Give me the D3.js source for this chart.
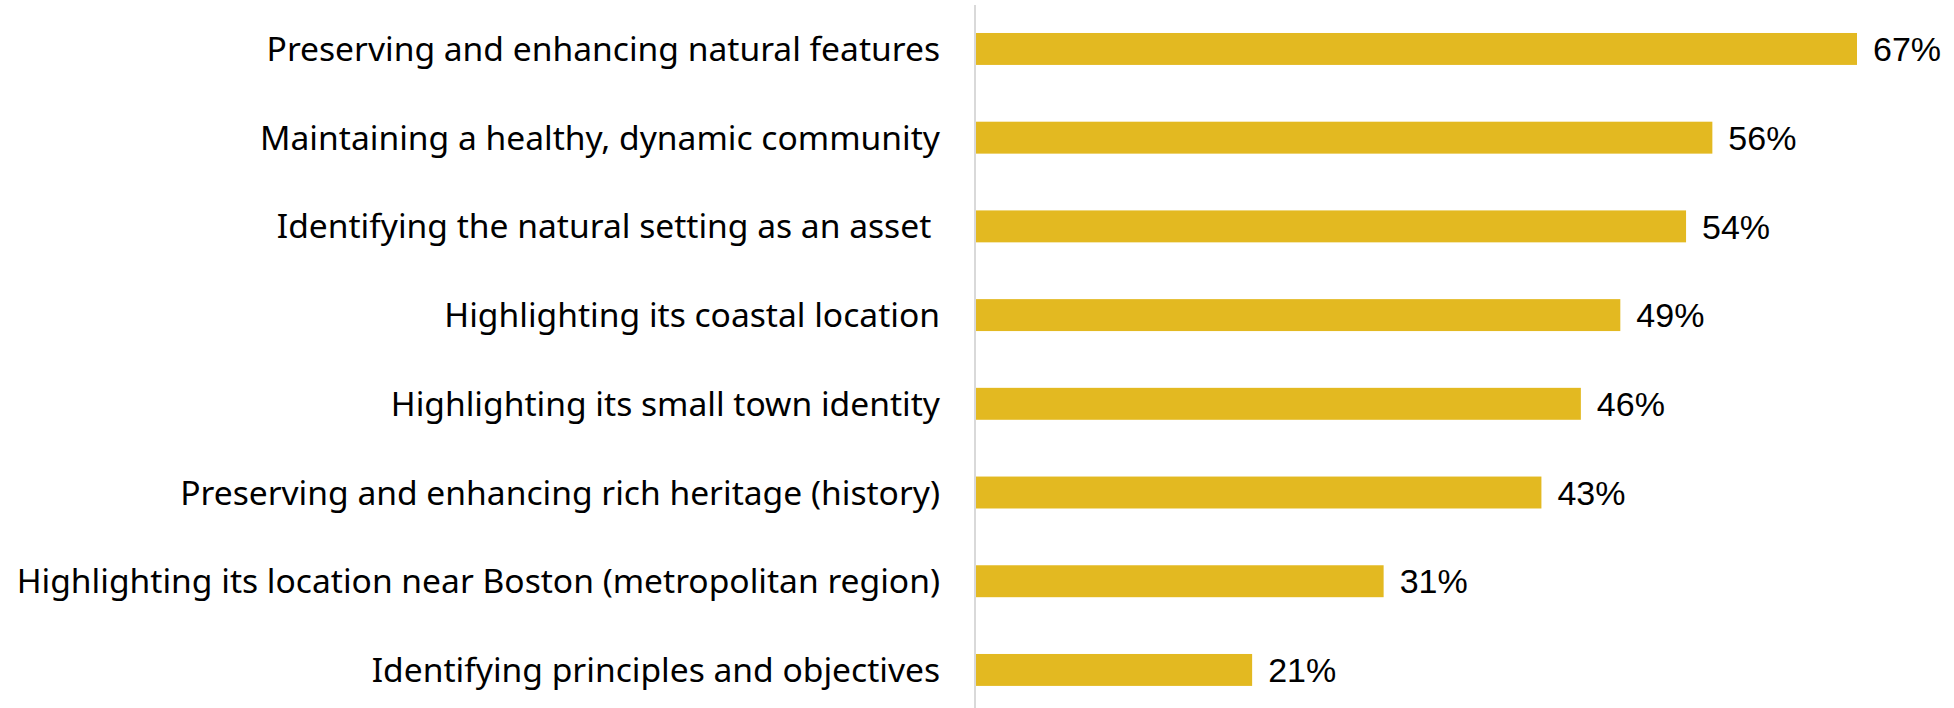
<!DOCTYPE html>
<html>
<head>
<meta charset="utf-8">
<script src="https://cdn.jsdelivr.net/npm/d3@7"></script>
<style>
  html, body { margin: 0; padding: 0; background: #fff; }
  svg { display: block; }
</style>
</head>
<body>
<div id="chart"></div>
<script>
const categories = [
    "Preserving and enhancing natural features",
    "Maintaining a healthy, dynamic community",
    "Identifying the natural setting as an asset ",
    "Highlighting its coastal location",
    "Highlighting its small town identity",
    "Preserving and enhancing rich heritage (history)",
    "Highlighting its location near Boston (metropolitan region)",
    "Identifying principles and objectives"
];
const values = [0.67, 0.56, 0.54, 0.49, 0.46, 0.43, 0.31, 0.21];

const width = 1954;
const height = 708;
const x0 = 976;
const barColor = '#E3B921';
const labelFont = "'Noto Sans', 'Open Sans', sans-serif";
const valueFont = "'Liberation Sans', Arial, sans-serif";

const svg = d3.select('#chart').append('svg')
    .attr('width', width)
    .attr('height', height);

const x = d3.scaleLinear().domain([0, 0.67]).range([x0, 1857]);
const y = d3.scaleBand()
    .domain(categories)
    .range([4.6, 714.3])
    .paddingInner(0.64)
    .paddingOuter(0.32);

// vertical category axis line
svg.append('line')
    .attr('x1', x0 - 1).attr('x2', x0 - 1)
    .attr('y1', 5).attr('y2', height)
    .attr('stroke', '#d9d9d9')
    .attr('stroke-width', 2);

svg.append('g')
    .selectAll('rect')
    .data(values)
    .join('rect')
    .attr('x', x(0))
    .attr('y', (d, i) => y(categories[i]))
    .attr('width', d => x(d) - x(0))
    .attr('height', y.bandwidth())
    .attr('fill', barColor);

svg.append('g')
    .selectAll('text')
    .data(values)
    .join('text')
    .attr('x', d => x(d) + 16)
    .attr('y', (d, i) => y(categories[i]) + y.bandwidth() / 2)
    .attr('dy', '0.36em')
    .attr('font-family', valueFont)
    .attr('font-size', 34)
    .attr('fill', '#000')
    .text(d => d3.format('.0%')(d));

svg.append('g')
    .selectAll('text')
    .data(categories)
    .join('text')
    .attr('x', 940)
    .attr('y', d => y(d) + y.bandwidth() / 2)
    .attr('dy', '0.36em')
    .attr('text-anchor', 'end')
    .attr('font-family', labelFont)
    .attr('font-size', 33.6)
    .attr('fill', '#000')
    .attr('xml:space', 'preserve')
    .style('white-space', 'pre')
    .text(d => d);
</script>
</body>
</html>
